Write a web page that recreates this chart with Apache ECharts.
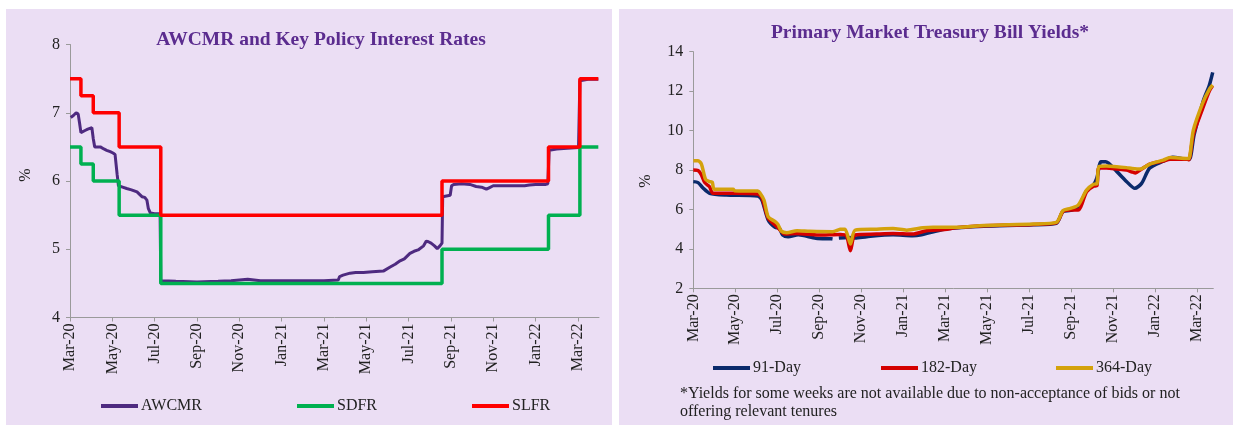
<!DOCTYPE html>
<html lang="en">
<head>
<meta charset="UTF-8">
<title>AWCMR and T-bill yields</title>
<script src="https://cdn.jsdelivr.net/npm/echarts@6/dist/echarts.min.js"></script>
<style>
body{margin:0;background:#fff;width:1237px;height:428px;position:relative;overflow:hidden;}
.panel{position:absolute;top:9px;height:416px;background:#EBDEF4;}
#left{left:6px;width:606px;}
#right{left:619px;width:614px;}
</style>
</head>
<body>
<div id="left" class="panel"></div>
<div id="right" class="panel"></div>
<script>
// tick labels (every 2 months from Mar-20)
var xTickLabels = ['Mar-20','May-20','Jul-20','Sep-20','Nov-20','Jan-21','Mar-21','May-21','Jul-21','Sep-21','Nov-21','Jan-22','Mar-22'];

// ---- left chart: AWCMR and policy rates ----
var awcmrDates = ['2020-03-02','2020-03-06','2020-03-10','2020-03-13','2020-03-15','2020-03-17','2020-03-23','2020-03-27','2020-04-02','2020-04-04','2020-04-06','2020-04-14','2020-04-19','2020-04-23','2020-04-28','2020-05-02','2020-05-05','2020-05-08','2020-05-10','2020-05-16','2020-05-22','2020-05-29','2020-06-06','2020-06-10','2020-06-13','2020-06-17','2020-06-20','2020-06-22','2020-06-25','2020-07-01','2020-07-09','2020-07-10','2020-08-01','2020-09-01','2020-10-01','2020-10-20','2020-11-13','2020-12-01','2021-01-01','2021-02-01','2021-03-01','2021-03-22','2021-03-24','2021-03-29','2021-04-08','2021-04-16','2021-04-27','2021-05-10','2021-05-26','2021-06-05','2021-06-12','2021-06-19','2021-06-25','2021-07-03','2021-07-09','2021-07-15','2021-07-23','2021-07-27','2021-07-30','2021-08-03','2021-08-08','2021-08-12','2021-08-16','2021-08-19','2021-08-20','2021-08-31','2021-09-02','2021-09-05','2021-09-16','2021-09-28','2021-10-07','2021-10-15','2021-10-22','2021-10-26','2021-11-01','2021-11-16','2021-12-01','2021-12-16','2021-12-23','2022-01-01','2022-01-16','2022-01-19','2022-01-21','2022-02-01','2022-02-15','2022-03-02','2022-03-04','2022-03-16','2022-03-31'];
var awcmrVals = [6.93,6.96,7.00,6.98,6.85,6.71,6.74,6.76,6.78,6.62,6.50,6.50,6.47,6.45,6.43,6.41,6.39,6.10,5.93,5.91,5.89,5.87,5.84,5.80,5.77,5.76,5.72,5.60,5.53,5.52,5.52,4.54,4.53,4.52,4.53,4.54,4.56,4.54,4.54,4.54,4.54,4.55,4.60,4.62,4.65,4.66,4.66,4.67,4.68,4.74,4.78,4.83,4.86,4.94,4.97,4.99,5.05,5.12,5.11,5.09,5.05,5.01,5.05,5.09,5.77,5.79,5.93,5.95,5.96,5.95,5.92,5.91,5.88,5.90,5.93,5.93,5.93,5.93,5.94,5.95,5.95,5.96,6.45,6.47,6.48,6.49,7.47,7.49,7.49];
var rateDates = ['2020-03-01','2020-03-17','2020-04-04','2020-05-11','2020-07-10','2021-08-19','2022-01-20','2022-03-04','2022-03-31'];
var sdfrVals = [6.50,6.25,6.00,5.50,4.50,5.00,5.50,6.50,6.50];
var slfrVals = [7.50,7.25,7.00,6.50,5.50,6.00,6.50,7.50,7.50];

// ---- right chart: primary market T-bill yields ----
var d91Dates = ['2020-03-01','2020-03-08','2020-03-15','2020-03-25','2020-04-18','2020-06-03','2020-06-09','2020-06-18','2020-06-28','2020-07-04','2020-07-09','2020-07-17','2020-08-01','2020-08-27','2020-09-18','2020-09-20','2020-09-24','2020-09-29','2020-10-12','2020-10-23','2020-11-09','2020-12-17','2021-01-15','2021-01-28','2021-02-09','2021-02-28','2021-03-20','2021-04-26','2021-07-07','2021-08-10','2021-08-20','2021-08-31','2021-09-11','2021-09-23','2021-10-03','2021-10-08','2021-10-14','2021-10-21','2021-11-06','2021-11-20','2021-12-02','2021-12-12','2021-12-24','2022-01-13','2022-01-27','2022-02-16','2022-02-19','2022-02-25','2022-03-10','2022-03-19','2022-03-24'];
var d91Vals = [7.41,7.36,7.10,6.82,6.73,6.68,6.48,5.47,5.09,5.04,4.71,4.62,4.71,4.54,4.51,4.50,null,4.55,4.58,4.55,4.62,4.71,4.66,4.71,4.83,5.00,5.07,5.15,5.22,5.30,5.90,5.95,6.10,6.95,7.25,7.60,8.42,8.42,7.93,7.42,7.07,7.32,8.10,8.45,8.65,8.55,8.55,9.80,11.50,12.30,12.95];
var d182Dates = ['2020-03-01','2020-03-08','2020-03-13','2020-03-18','2020-03-25','2020-03-30','2020-04-30','2020-06-03','2020-06-09','2020-06-18','2020-06-28','2020-07-05','2020-07-12','2020-07-30','2020-08-31','2020-10-01','2020-10-10','2020-10-16','2020-10-23','2020-11-23','2020-12-17','2021-01-15','2021-02-04','2021-02-28','2021-03-20','2021-04-26','2021-07-07','2021-08-10','2021-08-20','2021-08-31','2021-09-11','2021-09-23','2021-10-03','2021-10-08','2021-10-11','2021-10-22','2021-11-06','2021-11-20','2021-11-28','2021-12-03','2021-12-10','2021-12-24','2022-01-13','2022-01-23','2022-02-16','2022-02-18','2022-02-24','2022-03-09','2022-03-19','2022-03-24'];
var d182Vals = [8.00,7.97,7.75,7.36,7.15,6.82,6.82,6.78,6.60,5.55,5.21,4.96,4.75,4.78,4.70,4.73,4.68,3.91,4.70,4.75,4.78,4.75,4.92,4.98,5.08,5.17,5.24,5.32,5.90,5.97,5.97,6.90,7.18,7.20,8.12,8.10,8.05,8.00,7.90,7.85,8.00,8.30,8.45,8.55,8.55,8.52,9.80,11.10,12.00,12.28];
var d364Dates = ['2020-03-01','2020-03-08','2020-03-13','2020-03-19','2020-03-25','2020-03-29','2020-04-01','2020-04-28','2020-04-30','2020-06-03','2020-06-06','2020-06-12','2020-06-18','2020-06-28','2020-07-02','2020-07-07','2020-07-15','2020-07-30','2020-08-18','2020-09-20','2020-10-01','2020-10-08','2020-10-16','2020-10-23','2020-11-23','2020-12-17','2021-01-06','2021-01-30','2021-02-13','2021-03-20','2021-04-26','2021-07-07','2021-08-10','2021-08-20','2021-08-31','2021-09-11','2021-09-23','2021-10-03','2021-10-08','2021-10-11','2021-10-22','2021-11-06','2021-11-20','2021-11-28','2021-12-10','2021-12-24','2022-01-13','2022-01-23','2022-02-16','2022-02-18','2022-02-24','2022-03-09','2022-03-19','2022-03-24'];
var d364Vals = [8.47,8.47,8.30,7.53,7.41,7.38,7.02,7.02,6.95,6.93,6.85,6.48,5.63,5.38,5.24,4.90,4.82,4.92,4.89,4.87,4.99,5.00,4.25,4.95,5.00,5.03,4.95,5.07,5.10,5.10,5.19,5.26,5.34,5.94,6.05,6.22,6.98,7.28,7.30,8.17,8.20,8.17,8.12,8.08,8.05,8.30,8.50,8.63,8.58,8.58,10.03,11.38,12.09,12.31];

// date -> months since 1 Mar 2020
function toM(s){
	var p = s.split('-');
	var y = +p[0], mo = +p[1], d = +p[2];
	var dim = new Date(y, mo, 0).getDate();
	return (y-2020)*12 + (mo-3) + (d-1)/dim;
}
function pairs(dates, vals){
	var out = [];
	for(var i=0;i<dates.length;i++){
		out.push([toM(dates[i]), vals[i] == null ? '-' : vals[i]]);
	}
	return out;
}

var FONT = 'Liberation Serif';
var tickVals = [];
for(var i=0;i<xTickLabels.length;i++) tickVals.push(i*2);

function xAxisOpt(max){
	return {
		type:'value', min:0, max:max,
		axisLine:{lineStyle:{color:'#9a9a9a',width:1}},
		axisTick:{customValues:tickVals, length:4, lineStyle:{color:'#9a9a9a'}},
		axisLabel:{customValues:tickVals, rotate:90, margin:6, color:'#222', fontFamily:FONT, fontSize:16,
			formatter:function(v){ return xTickLabels[Math.round(v/2)] || ''; }},
		splitLine:{show:false}
	};
}
function yAxisOpt(min,max,step){
	return {
		type:'value', min:min, max:max, interval:step,
		axisLine:{show:true, lineStyle:{color:'#9a9a9a',width:1}},
		axisTick:{show:true, length:4, lineStyle:{color:'#9a9a9a'}},
		axisLabel:{color:'#222', fontFamily:FONT, fontSize:16, margin:10},
		splitLine:{show:false}
	};
}
function legendItem(name, left, top){
	return {data:[name], left:left, top:top, padding:0, icon:'rect', itemWidth:37, itemHeight:4,
		textStyle:{fontFamily:FONT, fontSize:16, color:'#222', padding:[0,0,0,-2]}};
}

var chartL = echarts.init(document.getElementById('left'));
chartL.setOption({
	animation:false,
	title:{text:'AWCMR and Key Policy Interest Rates', left:315, top:21, textAlign:'center', padding:0,
		textStyle:{fontFamily:FONT, fontSize:19.5, fontWeight:'bold', color:'#5B2C8F'}},
	grid:{left:64, top:35.5, width:529, height:273},
	xAxis:xAxisOpt(25),
	yAxis:yAxisOpt(4,8,1),
	legend:[legendItem('AWCMR',95,389), legendItem('SDFR',291,389), legendItem('SLFR',466,389)],
	graphic:[{type:'text', x:20, y:166, rotation:Math.PI/2,
		style:{text:'%', font:'16px "Liberation Serif"', fill:'#222', align:'center', verticalAlign:'middle'}}],
	series:[
		{name:'AWCMR', type:'line', symbol:'none', data:pairs(awcmrDates, awcmrVals),
			lineStyle:{color:'#4E2A80', width:3}, itemStyle:{color:'#4E2A80'}},
		{name:'SDFR', type:'line', symbol:'none', step:'end', data:pairs(rateDates, sdfrVals),
			lineStyle:{color:'#00B050', width:3.5}, itemStyle:{color:'#00B050'}},
		{name:'SLFR', type:'line', symbol:'none', step:'end', data:pairs(rateDates, slfrVals),
			lineStyle:{color:'#FF0000', width:3.5}, itemStyle:{color:'#FF0000'}}
	]
});

var chartR = echarts.init(document.getElementById('right'));
chartR.setOption({
	animation:false,
	title:{text:'Primary Market Treasury Bill Yields*', left:311, top:14, textAlign:'center', padding:0,
		textStyle:{fontFamily:FONT, fontSize:19.5, fontWeight:'bold', color:'#5B2C8F'}},
	grid:{left:74.3, top:42.7, width:520, height:236.6},
	xAxis:xAxisOpt(24.77),
	yAxis:yAxisOpt(2,14,2),
	legend:[legendItem('91-Day',94,351), legendItem('182-Day',262,351), legendItem('364-Day',437,351)],
	graphic:[
		{type:'text', x:27, y:172, rotation:Math.PI/2,
			style:{text:'%', font:'16px "Liberation Serif"', fill:'#222', align:'center', verticalAlign:'middle'}},
		{type:'text', x:61, y:376,
			style:{text:'*Yields for some weeks are not available due to non-acceptance of bids or not\noffering relevant tenures',
				font:'16px "Liberation Serif"', fill:'#222', lineHeight:18}}
	],
	series:[
		{name:'91-Day', type:'line', symbol:'none', smooth:0.25, data:pairs(d91Dates, d91Vals),
			lineStyle:{color:'#0A2A6B', width:3.5}, itemStyle:{color:'#0A2A6B'}},
		{name:'182-Day', type:'line', symbol:'none', smooth:0.25, data:pairs(d182Dates, d182Vals),
			lineStyle:{color:'#D40000', width:3.5}, itemStyle:{color:'#D40000'}},
		{name:'364-Day', type:'line', symbol:'none', smooth:0.25, data:pairs(d364Dates, d364Vals),
			lineStyle:{color:'#D4A20C', width:3.5}, itemStyle:{color:'#D4A20C'}}
	]
});
</script>
</body>
</html>
